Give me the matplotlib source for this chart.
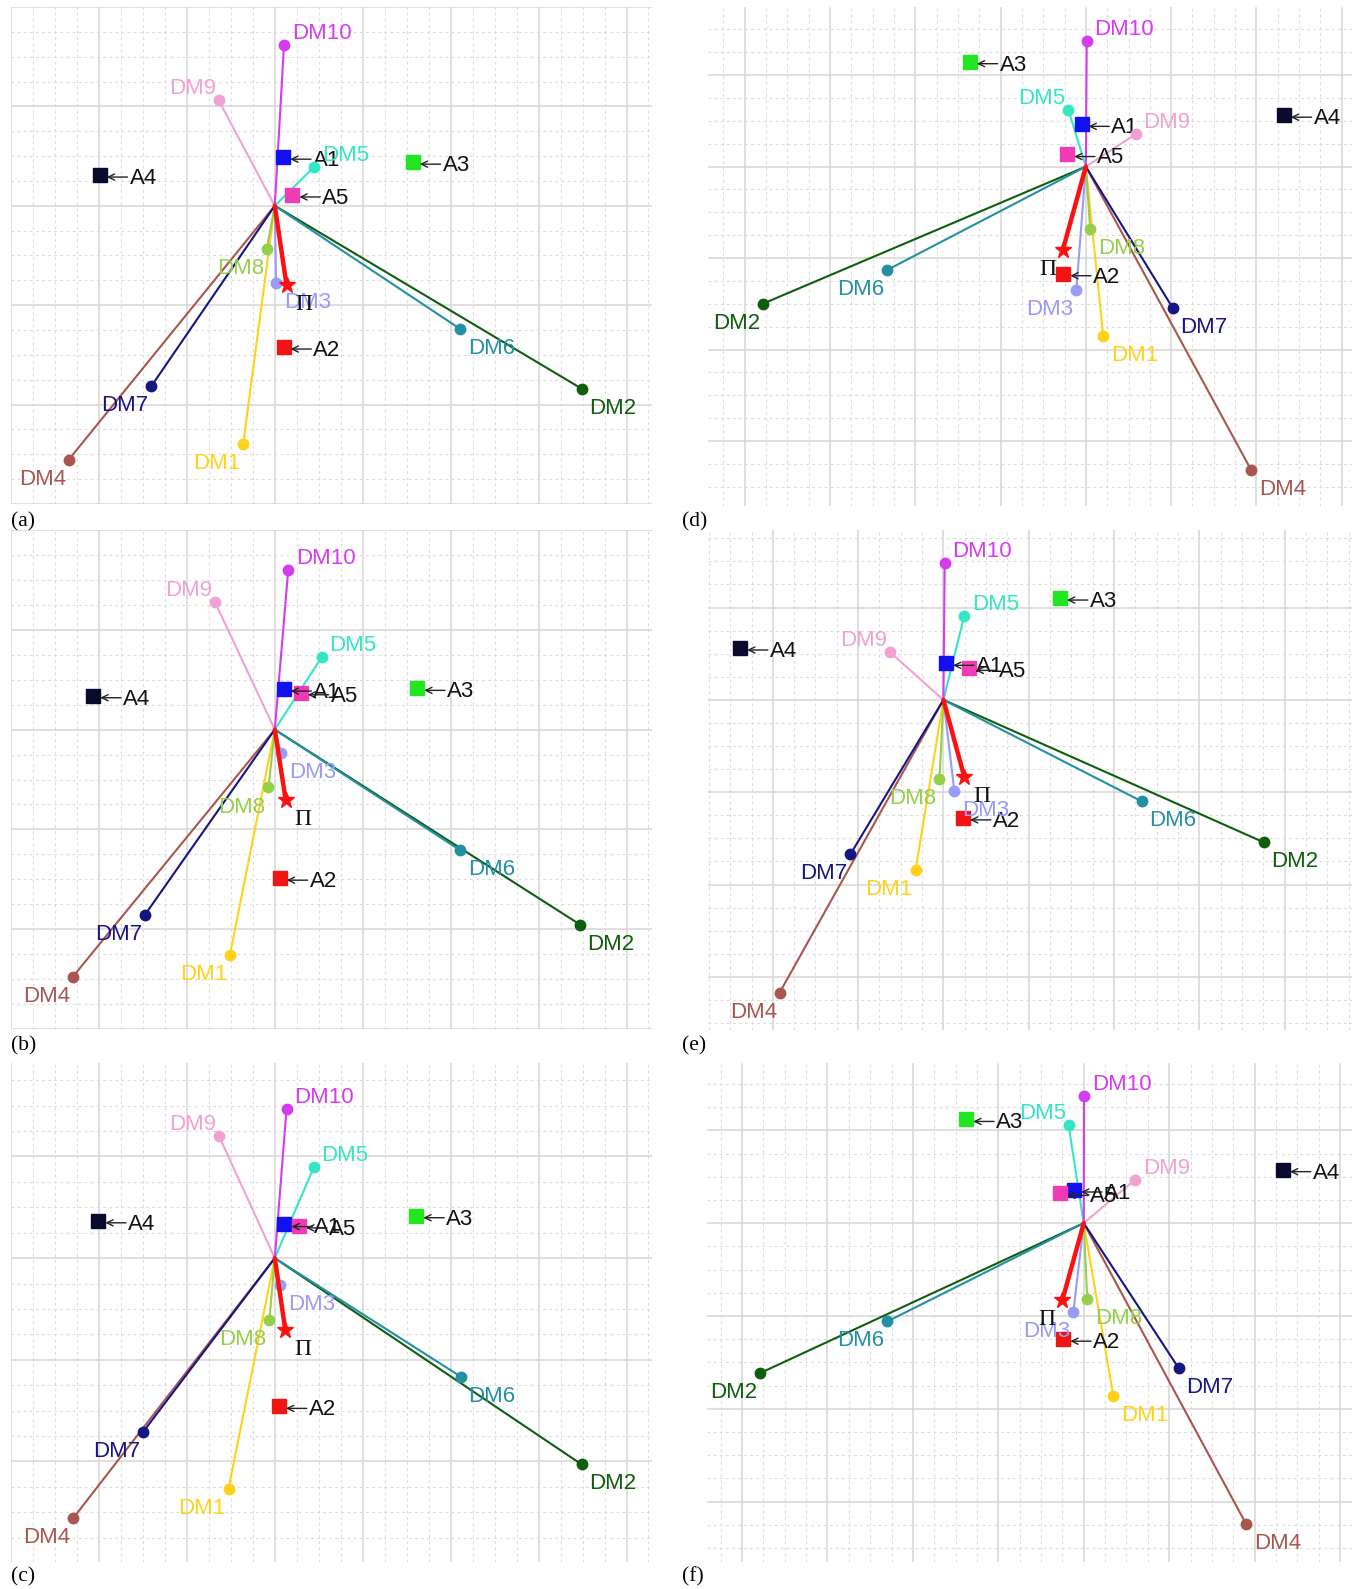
import numpy as np
import matplotlib.pyplot as plt
import matplotlib.transforms as mtransforms

plt.rcParams['font.family'] = ['Liberation Sans', 'DejaVu Sans']

W, H = 1358, 1589

dm_names = ['DM1', 'DM2', 'DM3', 'DM4', 'DM5', 'DM6', 'DM7', 'DM8', 'DM9', 'DM10']
dm_colors = ['#FFD21A', '#0E5E0E', '#9A9AF8', '#A9564F', '#34E6C4',
             '#2390A3', '#161683', '#96CF4A', '#F2A2D2', '#D53CEE']
alt_names = ['A1', 'A2', 'A3', 'A4', 'A5']
alt_colors = ['#1010F0', '#F01414', '#22E622', '#0A0A2E', '#F03CB4']

# (a)
a_dm_x = [-0.36, 3.49, 0.014, -2.345, 0.446, 2.11, -1.405, -0.09, -0.64, 0.105]
a_dm_y = [-2.40, -1.84, -0.775, -2.556, 0.39, -1.24, -1.816, -0.43, 1.065, 1.62]
a_alt_x = [0.096, 0.10, 1.57, -1.99, 0.20]
a_alt_y = [0.49, -1.42, 0.44, 0.31, 0.11]
a_pi = [0.134, -0.80]

# (b)
b_dm_x = [-0.51, 3.47, 0.072, -2.30, 0.535, 2.11, -1.48, -0.072, -0.683, 0.153]
b_dm_y = [-2.256, -1.953, -0.232, -2.48, 0.727, -1.21, -1.86, -0.58, 1.283, 1.60]
b_alt_x = [0.10, 0.057, 1.62, -2.064, 0.296]
b_alt_y = [0.407, -1.488, 0.414, 0.34, 0.37]
b_pi = [0.124, -0.704]

# (c)
c_dm_x = [-0.526, 3.49, 0.062, -2.293, 0.444, 2.117, -1.495, -0.062, -0.635, 0.134]
c_dm_y = [-2.267, -2.03, -0.265, -2.559, 0.895, -1.167, -1.707, -0.61, 1.203, 1.468]
c_alt_x = [0.11, 0.048, 1.61, -2.007, 0.277]
c_alt_y = [0.331, -1.458, 0.418, 0.368, 0.318]
c_pi = [0.119, -0.703]

# (d)
d_dm_x = [0.204, -3.79, -0.112, 1.94, -0.204, -2.336, 1.02, 0.051, 0.586, 0.01]
d_dm_y = [-1.856, -1.50, -1.344, -3.32, 0.619, -1.133, -1.548, -0.685, 0.356, 1.378]
d_alt_x = [-0.051, -0.265, -1.36, 2.32, -0.219]
d_alt_y = [0.463, -1.17, 1.148, 0.563, 0.133]
d_pi = [-0.27, -0.911]

# (e)
e_dm_x = [-0.327, 3.755, 0.128, -1.92, 0.245, 2.327, -1.092, -0.046, -0.628, 0.015]
e_dm_y = [-1.847, -1.542, -0.983, -3.17, 0.913, -1.10, -1.674, -0.854, 0.519, 1.483]
e_alt_x = [0.031, 0.23, 1.367, -2.383, 0.296]
e_alt_y = [0.397, -1.277, 1.104, 0.563, 0.342]
e_pi = [0.245, -0.835]

# (f)
f_dm_x = [0.346, -3.788, -0.122, 1.90, -0.178, -2.30, 1.11, 0.041, 0.60, 0.003]
f_dm_y = [-1.863, -1.615, -0.957, -3.24, 1.059, -1.059, -1.56, -0.818, 0.468, 1.374]
f_alt_x = [-0.112, -0.239, -1.375, 2.332, -0.275]
f_alt_y = [0.358, -1.249, 1.118, 0.577, 0.321]
f_pi = [-0.25, -0.829]

# pixel box (left, top, right, bottom), axis limits, label position
panels = [
    ('(a)', (11, 7, 652, 504), (-3, 4.29), (-3, 2), (11, 522),
     a_dm_x, a_dm_y, a_alt_x, a_alt_y, a_pi),
    ('(b)', (11, 530, 652, 1029), (-3, 4.29), (-3, 2), (11, 1046),
     b_dm_x, b_dm_y, b_alt_x, b_alt_y, b_pi),
    ('(c)', (11, 1063, 652, 1562), (-3, 4.29), (-2.99, 1.92), (11, 1577),
     c_dm_x, c_dm_y, c_alt_x, c_alt_y, c_pi),
    ('(d)', (708, 7, 1352, 506), (-4.43, 3.12), (-3.71, 1.745), (682, 522),
     d_dm_x, d_dm_y, d_alt_x, d_alt_y, d_pi),
    ('(e)', (708, 530, 1352, 1030), (-2.76, 4.79), (-3.575, 1.84), (682, 1046),
     e_dm_x, e_dm_y, e_alt_x, e_alt_y, e_pi),
    ('(f)', (707, 1063, 1352, 1562), (-4.41, 3.14), (-3.65, 1.725), (682, 1577),
     f_dm_x, f_dm_y, f_alt_x, f_alt_y, f_pi),
]


def label_side(x, y):
    ha = 'left' if x >= 0 else 'right'
    va = 'bottom' if y >= 0 else 'top'
    dx = 5.5 if x >= 0 else -2
    dy = 0.5 if y >= 0 else -6.5
    return ha, va, dx, dy


def draw_panel(fig, box, xlim, ylim, dm_x, dm_y, alt_x, alt_y, pi):
    x0, y0, x1, y1 = box
    ax = fig.add_axes([x0 / W, 1 - y1 / H, (x1 - x0) / W, (y1 - y0) / H])
    ax.set_xlim(*xlim)
    ax.set_ylim(*ylim)

    ax.set_xticks(np.arange(np.ceil(xlim[0]), xlim[1] + 1e-6, 1))
    ax.set_yticks(np.arange(np.ceil(ylim[0]), ylim[1] + 1e-6, 1))
    ax.set_xticks(np.arange(np.ceil(xlim[0] * 4) / 4, xlim[1] + 1e-6, 0.25), minor=True)
    ax.set_yticks(np.arange(np.ceil(ylim[0] * 4) / 4, ylim[1] + 1e-6, 0.25), minor=True)
    ax.grid(which='major', color='#d6d6d6', lw=1.1)
    ax.grid(which='minor', color='#dcdcdc', lw=0.8, ls=(0, (2.5, 3)))
    ax.set_axisbelow(True)
    ax.tick_params(which='both', length=0, labelbottom=False, labelleft=False)
    for s in ax.spines.values():
        s.set_visible(False)

    # decision makers: axis from the origin with a dot at the end
    for name, col, x, y in zip(dm_names, dm_colors, dm_x, dm_y):
        ax.plot([0, x], [0, y], color=col, lw=1.5, zorder=3, solid_capstyle='round')

    # alternatives, each with a thin arrow pointing back at its square
    head = mtransforms.offset_copy(ax.transData, fig=fig, x=5, y=-1.5, units='points')
    tail = mtransforms.offset_copy(ax.transData, fig=fig, x=20, y=-1.5, units='points')
    for name, col, x, y in zip(alt_names, alt_colors, alt_x, alt_y):
        ax.plot(x, y, 's', ms=9.5, color=col, zorder=4)
        ax.annotate('', xy=(x, y), xycoords=head, xytext=(x, y), textcoords=tail,
                    arrowprops=dict(arrowstyle='->, head_length=0.45, head_width=0.22',
                                    lw=1.0, color='#222222', shrinkA=0, shrinkB=0,
                                    mutation_scale=10),
                    zorder=5)
        ax.annotate(name, (x, y), xytext=(21.5, -2.5), textcoords='offset points',
                    ha='left', va='center', fontsize=16, color='#111111', zorder=5)

    for name, col, x, y in zip(dm_names, dm_colors, dm_x, dm_y):
        ax.plot(x, y, 'o', ms=7.5, color=col, zorder=6)
        ha, va, dx, dy = label_side(x, y)
        ax.annotate(name, (x, y), xytext=(dx, dy), textcoords='offset points',
                    ha=ha, va=va, fontsize=16, color=col, zorder=6)

    # decision stick
    px, py = pi
    ax.plot([0, px], [0, py], color='#FF1010', lw=3.2, zorder=7, solid_capstyle='round')
    ax.plot(px, py, marker='*', ms=12, color='#FF1010', zorder=8)
    ha, va, dx, dy = label_side(px, py)
    ax.annotate('\u03a0', (px, py), xytext=(dx + 1 if px >= 0 else dx - 3, dy),
                textcoords='offset points', ha=ha, va=va, fontsize=17,
                family=['Liberation Serif', 'DejaVu Serif'], color='#111111', zorder=8)
    return ax


fig = plt.figure(figsize=(W / 100, H / 100), dpi=100)
for tag, box, xlim, ylim, lab, dmx, dmy, ax_, ay_, pi in panels:
    draw_panel(fig, box, xlim, ylim, dmx, dmy, ax_, ay_, pi)
    fig.text(lab[0] / W, 1 - lab[1] / H, tag, ha='left', va='center', fontsize=15.5,
             family=['Liberation Serif', 'DejaVu Serif'])

fig.savefig('out.png', dpi=100, facecolor='white')
